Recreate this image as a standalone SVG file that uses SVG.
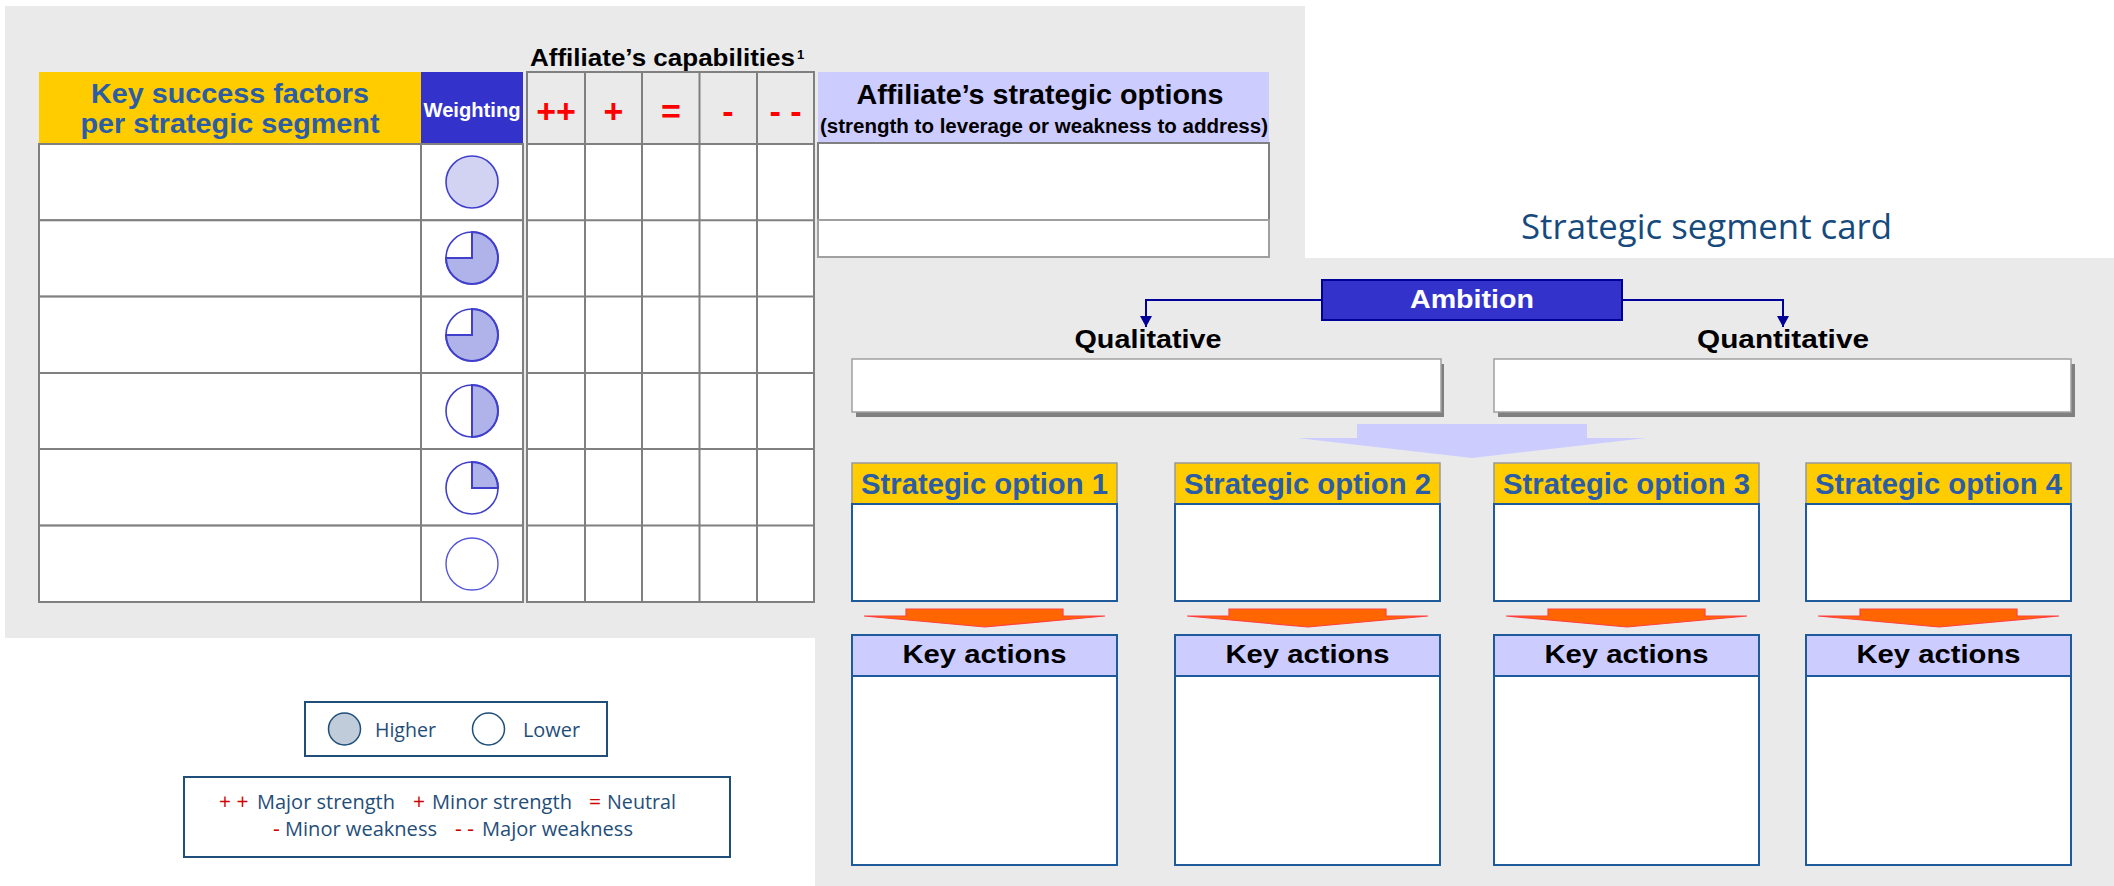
<svg xmlns="http://www.w3.org/2000/svg" width="2114" height="886" viewBox="0 0 2114 886">
<style>
.bg{fill:#EAEAEA}
.cell{fill:#FFFFFF;stroke:#808080;stroke-width:2}
.gl{stroke:#808080;stroke-width:2;fill:none}
.b{font-family:"Liberation Sans",Arial,sans-serif;font-weight:bold}
.c{font-family:"Open Sans","Noto Sans",sans-serif}
.blueT{fill:#2B5CA6}
.sym{fill:#FF0000;font-size:34px;text-anchor:middle}
.pie{fill:#B0B2EA;stroke:#4040CC;stroke-width:2}
.ring{fill:none;stroke:#4040CC;stroke-width:1.6}
.opt{fill:#FFCC00;stroke:#999999;stroke-width:1.5}
.obox{fill:#FFFFFF;stroke:#1F5A9A;stroke-width:2}
.ka{fill:#CCCCFF;stroke:#1F5A9A;stroke-width:2}
.oarrow{fill:#FF6600;stroke:#FF4040;stroke-width:1.2}
.leg{fill:#1F4E79;font-size:20px}
.red{fill:#D00000;font-size:21px}
.conn{fill:none;stroke:#000099;stroke-width:2}
</style>
<defs>
<marker id="ah" markerUnits="userSpaceOnUse" markerWidth="12" markerHeight="12" refX="11" refY="6" orient="auto" viewBox="0 0 12 12">
<path d="M0,0 L11,6 L0,12 Z" fill="#000099"/>
</marker>
</defs>

<!-- backgrounds -->
<rect class="bg" x="5" y="6" width="1300" height="632"/>
<rect class="bg" x="815" y="258" width="1299" height="628"/>

<!-- Left table: key success factors -->
<g id="ksf-table">
<rect x="39" y="72" width="382" height="72" fill="#FFCC00"/>
<text class="b blueT" x="230" y="103" font-size="28" text-anchor="middle" textLength="278" lengthAdjust="spacingAndGlyphs">Key success factors</text>
<text class="b blueT" x="230" y="133" font-size="28" text-anchor="middle" textLength="299" lengthAdjust="spacingAndGlyphs">per strategic segment</text>
<rect x="421" y="72" width="102" height="73" fill="#3333CC"/>
<text class="b" x="472" y="117" font-size="20" fill="#FFFFFF" text-anchor="middle" textLength="97" lengthAdjust="spacingAndGlyphs">Weighting</text>
<rect class="cell" x="39" y="144" width="382" height="76.3"/>
<rect class="cell" x="39" y="220.3" width="382" height="76.3"/>
<rect class="cell" x="39" y="296.6" width="382" height="76.4"/>
<rect class="cell" x="39" y="373" width="382" height="76"/>
<rect class="cell" x="39" y="449" width="382" height="76.6"/>
<rect class="cell" x="39" y="525.6" width="382" height="76.4"/>
<rect class="cell" x="421" y="144" width="102" height="76.3"/>
<rect class="cell" x="421" y="220.3" width="102" height="76.3"/>
<rect class="cell" x="421" y="296.6" width="102" height="76.4"/>
<rect class="cell" x="421" y="373" width="102" height="76"/>
<rect class="cell" x="421" y="449" width="102" height="76.6"/>
<rect class="cell" x="421" y="525.6" width="102" height="76.4"/>
</g>

<!-- weighting symbols -->
<g id="weights">
<circle cx="472" cy="182" r="26" fill="#D2D3F2" stroke="#4040CC" stroke-width="1.6"/>
<path class="pie" d="M472,258 L472,232 A26,26 0 1 1 446,258 Z"/>
<circle class="ring" cx="472" cy="258" r="26"/>
<path class="pie" d="M472,335 L472,309 A26,26 0 1 1 446,335 Z"/>
<circle class="ring" cx="472" cy="335" r="26"/>
<path class="pie" d="M472,385 A26,26 0 0 1 472,437 Z"/>
<circle class="ring" cx="472" cy="411" r="26"/>
<path class="pie" d="M472,488 L472,462 A26,26 0 0 1 498,488 Z"/>
<circle class="ring" cx="472" cy="488" r="26"/>
<circle cx="472" cy="564" r="26" fill="#FFFFFF" stroke="#5555DD" stroke-width="1.4"/>
</g>

<!-- capabilities grid -->
<g id="capabilities">
<text class="b" x="530" y="66" font-size="24" fill="#000000" textLength="265" lengthAdjust="spacingAndGlyphs">Affiliate’s capabilities</text>
<text class="b" x="797" y="59" font-size="13" fill="#000000">1</text>
<rect x="527" y="144" width="287" height="458" fill="#FFFFFF"/>
<rect class="gl" x="527" y="72" width="287" height="530"/>
<line class="gl" x1="585" y1="72" x2="585" y2="602"/>
<line class="gl" x1="642" y1="72" x2="642" y2="602"/>
<line class="gl" x1="699.5" y1="72" x2="699.5" y2="602"/>
<line class="gl" x1="757" y1="72" x2="757" y2="602"/>
<line class="gl" x1="527" y1="144" x2="814" y2="144"/>
<line class="gl" x1="527" y1="220.3" x2="814" y2="220.3"/>
<line class="gl" x1="527" y1="296.6" x2="814" y2="296.6"/>
<line class="gl" x1="527" y1="373" x2="814" y2="373"/>
<line class="gl" x1="527" y1="449" x2="814" y2="449"/>
<line class="gl" x1="527" y1="525.6" x2="814" y2="525.6"/>
<text class="b sym" x="556" y="123">++</text>
<text class="b sym" x="613.5" y="123">+</text>
<text class="b sym" x="671" y="123">=</text>
<text class="b sym" x="728" y="123">-</text>
<text class="b sym" x="785.5" y="123">- -</text>
</g>

<!-- strategic options table -->
<g id="strategic-options">
<rect x="818" y="72" width="451" height="71" fill="#CCCCFF"/>
<text class="b" x="1040" y="104" font-size="28" fill="#000000" text-anchor="middle" textLength="367" lengthAdjust="spacingAndGlyphs">Affiliate’s strategic options</text>
<text class="b" x="1044" y="133" font-size="20" fill="#000000" text-anchor="middle" textLength="448" lengthAdjust="spacingAndGlyphs">(strength to leverage or weakness to address)</text>
<rect class="cell" x="818" y="143" width="451" height="77"/>
<rect x="818" y="220" width="451" height="37" fill="#FFFFFF" stroke="#A0A0A0" stroke-width="2"/>
</g>

<!-- title -->
<text class="c" x="1521" y="239" font-size="34" fill="#174A7C" textLength="371" lengthAdjust="spacingAndGlyphs">Strategic segment card</text>

<!-- connectors -->
<g id="connectors">
<path class="conn" d="M1322,300 H1146 V327" marker-end="url(#ah)"/>
<path class="conn" d="M1622,300 H1783 V327" marker-end="url(#ah)"/>
</g>

<g id="ambition">
<rect x="1322" y="280" width="300" height="40" fill="#3333CC" stroke="#000099" stroke-width="2"/>
<text class="b" x="1472" y="308" font-size="25" fill="#FFFFFF" text-anchor="middle" textLength="124" lengthAdjust="spacingAndGlyphs">Ambition</text>
</g>

<g id="qualitative">
<text class="b" x="1148" y="348" font-size="26" fill="#000000" text-anchor="middle" textLength="147" lengthAdjust="spacingAndGlyphs">Qualitative</text>
<rect x="856" y="364" width="588" height="53" fill="#808080"/>
<rect x="852" y="359" width="589" height="53" fill="#FFFFFF" stroke="#A0A0A0" stroke-width="1.5"/>
</g>

<g id="quantitative">
<text class="b" x="1783" y="348" font-size="26" fill="#000000" text-anchor="middle" textLength="172" lengthAdjust="spacingAndGlyphs">Quantitative</text>
<rect x="1498" y="364" width="577" height="53" fill="#808080"/>
<rect x="1494" y="359" width="577" height="53" fill="#FFFFFF" stroke="#A0A0A0" stroke-width="1.5"/>
</g>

<path id="big-arrow" d="M1357,424 H1587 V438 H1646 L1472,458 L1297,438 H1357 Z" fill="#CCCCFF"/>

<!-- strategic option columns -->
<g id="option-1">
<rect class="opt" x="852" y="463" width="265" height="41"/>
<text class="b blueT" x="984.5" y="494" font-size="29" text-anchor="middle" textLength="247" lengthAdjust="spacingAndGlyphs">Strategic option 1</text>
<rect class="obox" x="852" y="504" width="265" height="97"/>
<path class="oarrow" d="M906,609 H1063 V616 H1105 L985,627 L864,616 H906 Z"/>
<rect class="ka" x="852" y="635" width="265" height="41"/>
<text class="b" x="984.5" y="663" font-size="26" text-anchor="middle" textLength="164" lengthAdjust="spacingAndGlyphs">Key actions</text>
<rect class="obox" x="852" y="676" width="265" height="189"/>
</g>
<g id="option-2">
<rect class="opt" x="1175" y="463" width="265" height="41"/>
<text class="b blueT" x="1307.5" y="494" font-size="29" text-anchor="middle" textLength="247" lengthAdjust="spacingAndGlyphs">Strategic option 2</text>
<rect class="obox" x="1175" y="504" width="265" height="97"/>
<path class="oarrow" d="M1229,609 H1386 V616 H1428 L1308,627 L1187,616 H1229 Z"/>
<rect class="ka" x="1175" y="635" width="265" height="41"/>
<text class="b" x="1307.5" y="663" font-size="26" text-anchor="middle" textLength="164" lengthAdjust="spacingAndGlyphs">Key actions</text>
<rect class="obox" x="1175" y="676" width="265" height="189"/>
</g>
<g id="option-3">
<rect class="opt" x="1494" y="463" width="265" height="41"/>
<text class="b blueT" x="1626.5" y="494" font-size="29" text-anchor="middle" textLength="247" lengthAdjust="spacingAndGlyphs">Strategic option 3</text>
<rect class="obox" x="1494" y="504" width="265" height="97"/>
<path class="oarrow" d="M1548,609 H1705 V616 H1747 L1627,627 L1506,616 H1548 Z"/>
<rect class="ka" x="1494" y="635" width="265" height="41"/>
<text class="b" x="1626.5" y="663" font-size="26" text-anchor="middle" textLength="164" lengthAdjust="spacingAndGlyphs">Key actions</text>
<rect class="obox" x="1494" y="676" width="265" height="189"/>
</g>
<g id="option-4">
<rect class="opt" x="1806" y="463" width="265" height="41"/>
<text class="b blueT" x="1938.5" y="494" font-size="29" text-anchor="middle" textLength="247" lengthAdjust="spacingAndGlyphs">Strategic option 4</text>
<rect class="obox" x="1806" y="504" width="265" height="97"/>
<path class="oarrow" d="M1860,609 H2017 V616 H2059 L1939,627 L1818,616 H1860 Z"/>
<rect class="ka" x="1806" y="635" width="265" height="41"/>
<text class="b" x="1938.5" y="663" font-size="26" text-anchor="middle" textLength="164" lengthAdjust="spacingAndGlyphs">Key actions</text>
<rect class="obox" x="1806" y="676" width="265" height="189"/>
</g>

<!-- legends -->
<g id="legend-weight">
<rect x="305" y="702" width="302" height="54" fill="#FFFFFF" stroke="#1F4E79" stroke-width="2"/>
<circle cx="344.5" cy="729" r="16" fill="#C0CCDA" stroke="#1F4E79" stroke-width="1.5"/>
<text class="c leg" x="375" y="737" textLength="61" lengthAdjust="spacingAndGlyphs">Higher</text>
<circle cx="488.5" cy="729" r="16" fill="#FFFFFF" stroke="#1F4E79" stroke-width="1.5"/>
<text class="c leg" x="523" y="737" textLength="57" lengthAdjust="spacingAndGlyphs">Lower</text>
</g>
<g id="legend-capability">
<rect x="184" y="777" width="546" height="80" fill="#FFFFFF" stroke="#1F4E79" stroke-width="2"/>
<text class="c red" x="219" y="809">+ +</text>
<text class="c leg" x="257" y="809" textLength="138" lengthAdjust="spacingAndGlyphs">Major strength</text>
<text class="c red" x="413" y="809">+</text>
<text class="c leg" x="432" y="809" textLength="140" lengthAdjust="spacingAndGlyphs">Minor strength</text>
<text class="c red" x="589" y="809">=</text>
<text class="c leg" x="607" y="809" textLength="69" lengthAdjust="spacingAndGlyphs">Neutral</text>
<text class="c red" x="273" y="836">-</text>
<text class="c leg" x="285" y="836" textLength="152" lengthAdjust="spacingAndGlyphs">Minor weakness</text>
<text class="c red" x="455" y="836">- -</text>
<text class="c leg" x="482" y="836" textLength="151" lengthAdjust="spacingAndGlyphs">Major weakness</text>
</g>
</svg>
